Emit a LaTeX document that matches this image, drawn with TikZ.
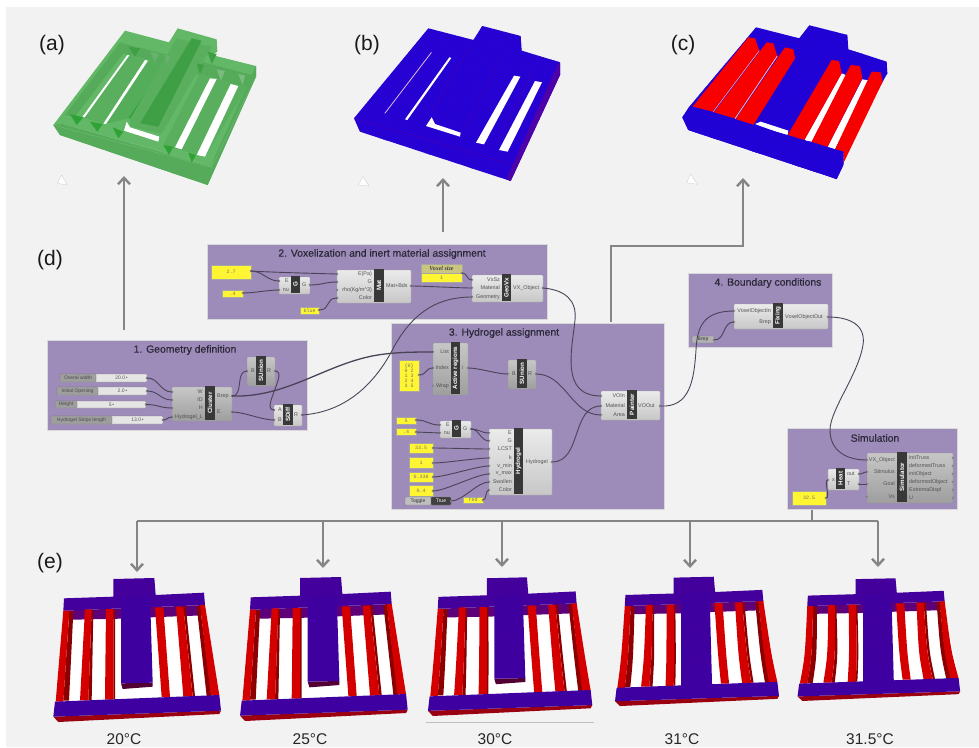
\documentclass[tikz,border=0pt]{standalone}
\usepackage{fontspec}
\setmainfont{Liberation Sans}
\newfontfamily\panelfont{Liberation Mono}
\newfontfamily\vsfont{Liberation Serif}
\newfontfamily\titlefont[FakeBold=0.35]{Liberation Sans}
\usetikzlibrary{arrows.meta}
\definecolor{pagebg}{HTML}{F2F2F2}
\definecolor{grp}{HTML}{9D8BB9}
\definecolor{ttl}{HTML}{2B2838}
\definecolor{wirec}{HTML}{4A4458}
\definecolor{arrowc}{HTML}{858585}
\definecolor{gA}{HTML}{62B866}
\definecolor{gB}{HTML}{55AB5A}
\definecolor{gC}{HTML}{3F9F45}
\definecolor{gD}{HTML}{2FA236}
\definecolor{blueA}{HTML}{2400E0}
\definecolor{blueB}{HTML}{1C00E4}
\definecolor{redA}{HTML}{F80000}
\definecolor{gridc}{HTML}{3008B0}
\definecolor{sTop}{HTML}{43009C}
\definecolor{sBack}{HTML}{5E0078}
\definecolor{sBeam}{HTML}{3E00A0}
\definecolor{sRed}{HTML}{D40000}
\definecolor{sDark}{HTML}{8B0000}
\definecolor{sLow}{HTML}{9A0010}
\tikzset{
  x=1pt,y=-1pt,
  groupbox/.style={draw=black!15,fill=grp,line width=.4pt},
  gtitle/.style={text=ttl,font=\fontsize{10.4}{11}\titlefont\selectfont,inner sep=0pt},
  comp/.style={draw=black!35,line width=.3pt,top color=white!92!black,bottom color=black!22,rounded corners=.8pt},
  compdark/.style={draw=black!40,line width=.3pt,top color=black!22,bottom color=black!38,rounded corners=.8pt},
  gbar/.style={fill=black!78,text=white,font=\fontsize{6.2}{6.2}\bfseries\selectfont},
  plabel/.style={text=black!68,font=\fontsize{5.4}{5.4}\selectfont,inner sep=0pt},
  portdot/.style={circle,draw=black!65,fill=black!8,line width=.3pt,minimum size=2.4pt,inner sep=0pt},
  ypanel/.style={draw=black!35,fill=yellow!80!white,line width=.3pt,text=black!55,font=\fontsize{5}{5}\panelfont\selectfont},
  sliderbox/.style={draw=black!50,fill=black!10,line width=.3pt,rounded corners=1pt,text=black!65,font=\fontsize{5}{5}\selectfont},
  sliderlab/.style={draw=black!50,fill=black!38,line width=.3pt,rounded corners=1pt,text=black!70,font=\fontsize{5}{5}\selectfont},
  wire/.style={draw=wirec,line width=.9pt},
  bigarrow/.style={draw=arrowc,line width=2.6pt,-{Straight Barb[length=6.5pt,width=12pt,line width=2.4pt]}},
  arrowline/.style={draw=arrowc,line width=2.6pt},
  tag/.style={font=\fontsize{21}{22}\selectfont,text=black!90,inner sep=0pt},
  temp/.style={font=\fontsize{15.5}{16}\selectfont,text=black!85,inner sep=0pt},
  cursorico/.style={fill=white,draw=black!25,line width=.2pt},
}
% style, name, x1,y1,x2,y2,text
\newcommand\bx[7]{\pgfmathsetmacro\bxw{#5-#3}\pgfmathsetmacro\bxh{#6-#4}%
  \node[#1,anchor=north west,minimum width=\bxw pt,minimum height=\bxh pt,inner sep=0pt,outer sep=0pt] (#2) at (#3,#4) {#7};}
% name,x1,y1,x2,y2,barx1,barx2,bartext, style
\newcommand\gc[9]{\bx{#9}{#1}{#2}{#3}{#4}{#5}{}%
  \bx{gbar}{#1-bar}{#6}{#3-1}{#7}{#5+1}{\rotatebox{90}{#8}}}
\newcommand\inp[5]{\node[portdot] (#1) at (#2,#3) {};\node[plabel,anchor=east] (#1-l) at (#4,#3) {#5};}
\newcommand\outp[5]{\node[portdot] (#1) at (#2,#3) {};\node[plabel,anchor=west] (#1-l) at (#4,#3) {#5};}
\newcommand\wire[3][12]{\draw[wire] (#2.center) .. controls +(#1,0) and +(-#1,0) .. (#3.center);}
% slider: id,x1,y1,x2,y2,split,label,value
\newcommand\slider[8]{\bx{sliderbox}{#1}{#2}{#3}{#4}{#5}{\hspace*{\dimexpr #6pt-#2pt\relax}#8\,\textbullet}%
  \bx{sliderlab}{#1-lab}{#2}{#3}{#6}{#5}{#7}%
  \node[portdot] (#1-o) at (#4,{(#3+#5)/2}) {};}
% panel: id,x1,y1,x2,y2,text
\newcommand\ypan[6]{\bx{ypanel}{#1}{#2}{#3}{#4}{#5}{#6}}
% voxel grid, clipped by the surrounding scope
\newcommand\gridlines{%
  \foreach \i in {0,...,130}{\draw[gridc,line width=.25pt] (-200,{-400+\i*9}) -- ++(1300,338);}
  \foreach \i in {0,...,130}{\draw[gridc,line width=.25pt] ({100+\i*10},-100) -- ++(-520,633);}}
% specimen band: colour, xTL,xTR,yT,xBL,xBR,yB,sign
\newcommand\sband[8]{\pgfmathsetmacro\cax{#2+(#5-#2)*.65+#8*\sbend}\pgfmathsetmacro\cbx{#3+(#6-#3)*.65+#8*\sbend}\pgfmathsetmacro\cy{#4+(#7-#4)*.65}%
  \fill[#1] (#2,#4) .. controls (\cax,\cy) .. (#5,#7) -- (#6,#7) .. controls (\cbx,\cy) .. (#3,#4) -- cycle;}
% specimen: name, X, Y, sx, sy, beam bottom, bend, beamface(1/0)
\newcommand\specimen[8]{%
 \begin{scope}[shift={(#2,#3)},x=#4/3*1pt,y=-#5/3*1pt]
  \def\sbend{#7}
  \coordinate (#1) at (350,300);
  \fill[white] (145,236) -- (555,222) -- (598,466) -- (105,485) -- cycle;
  \fill[sBack] (130,212) -- (555,195) -- (550,226) -- (392,232) -- (303,236) -- (160,239) -- cycle;
  \fill[sTop] (132,175) -- (280,170) -- (280,117) -- (403,114) -- (407,165) -- (552,158) -- (555,195) -- (130,212) -- cycle;
  \sband{sDark}{148}{160}{214}{130}{147}{482}{1}
  \sband{sRed}{130}{148}{212}{107}{130}{485}{1}
  \sband{sDark}{215}{220}{210}{205}{215}{481}{1}
  \sband{sRed}{195}{215}{208}{180}{205}{481}{1}
  \sband{sDark}{280}{285}{208}{280}{285}{478}{.5}
  \sband{sRed}{258}{280}{207}{255}{280}{479}{.5}
  \sband{sRed}{405}{430}{202}{425}{450}{471}{-.5}
  \sband{sDark}{490}{497}{198}{518}{525}{468}{-1}
  \sband{sRed}{468}{490}{200}{490}{518}{470}{-1}
  \sband{sDark}{530}{540}{198}{560}{575}{468}{-1}
  \sband{sRed}{540}{555}{195}{572}{598}{466}{-1}
  \ifnum#8=1 \fill[black!60!red!80!blue] (303,#6) -- (398,#6-2) -- (398,#6+10) -- (308,#6+17) -- cycle;\fi
  \fill[sBeam] (303,170) -- (390,165) -- (398,#6-2) -- (303,#6) -- cycle;
  \fill[sLow] (100,530) -- (603,512) -- (598,522) -- (115,546) -- cycle;
  \fill[sBeam] (105,485) -- (598,465) -- (603,512) -- (100,530) -- cycle;
  \foreach \k in {130,142,...,420}{\draw[sBack!35!sBeam,line width=.15pt] (305,\k) -- (392,\k-3);}
 \end{scope}}
\begin{document}
\begin{tikzpicture}
\useasboundingbox (0,0) rectangle (979,747);
\fill[white] (0,0) rectangle (979,747);
\fill[pagebg] (6,7) rectangle (979,747);

% ---- (a) green
\begin{scope}[shift={(20,10)},x=1/3*1pt,y=-1/3*1pt]
 \fill[gA] (315,62) -- (447,97) -- (473,55) -- (590,88) -- (592,125) -- (575,135) -- (708,168) -- (708,200) -- (563,525) -- (120,375) -- (100,345) -- cycle;
 \fill[gB] (100,345) -- (130,342) -- (575,472) -- (563,525) -- (120,375) -- cycle;
 \fill[gB] (708,168) -- (708,200) -- (563,525) -- (580,450) -- (695,195) -- cycle;
 \fill[gB] (300,98) -- (445,135) -- (440,165) -- (310,130) -- cycle;
 \fill[gB] (525,150) -- (695,195) -- (680,232) -- (520,190) -- cycle;
 \fill[gB] (300,98) -- (310,130) -- (165,320) -- (135,315) -- cycle;
 \fill[gB!70!gA] (322,135) -- (375,150) -- (250,342) -- (187,322) -- cycle;
 \fill[gC!40!gA] (384,152) -- (440,165) -- (325,325) -- (258,342) -- cycle;
 \fill[gD] (436,160) -- (445,165) -- (335,325) -- (325,325) -- cycle;
 \fill[gB!70!gA] (470,85) -- (575,110) -- (425,372) -- (332,350) -- (330,328) -- cycle;
 \fill[gC] (515,85) -- (545,92) -- (415,350) -- (360,340) -- cycle;
 \fill[gB!70!gA] (540,190) -- (680,232) -- (555,440) -- (430,405) -- cycle;
 \draw[gC!70,line width=.3pt] (100,345) -- (575,472) (130,342) -- (560,462) (575,472) -- (708,200);
 % slots
 \fill[white] (322,135) -- (328,136) -- (194,322) -- (187,321) -- cycle;
 \fill[white] (375,150) -- (384,152) -- (258,342) -- (250,341) -- cycle;
 \fill[white] (320,335) -- (330,352) -- (418,380) -- (415,395) -- (312,362) -- cycle;
 \fill[white] (570,205) -- (590,207) -- (485,418) -- (465,412) -- cycle;
 \fill[white] (632,222) -- (655,228) -- (555,440) -- (530,435) -- cycle;
 % triangles
 \fill[gD] (150,312) -- (190,322) -- (170,345) -- cycle;
 \fill[gD] (210,335) -- (248,342) -- (232,365) -- cycle;
 \fill[gD] (278,352) -- (310,365) -- (295,385) -- cycle;
 \fill[gD] (430,405) -- (460,410) -- (447,435) -- cycle;
 \fill[gD] (505,428) -- (528,435) -- (515,458) -- cycle;
 \fill[gC] (325,110) -- (360,115) -- (345,140) -- cycle;
 \fill[gC!80] (390,125) -- (418,132) -- (405,157) -- cycle;
 \fill[gC!80] (435,135) -- (452,140) -- (440,165) -- cycle;
 \fill[gC] (563,125) -- (590,132) -- (575,162) -- cycle;
 \fill[gC] (530,160) -- (552,165) -- (540,192) -- cycle;
 \fill[gC!70] (590,178) -- (615,183) -- (603,212) -- cycle;
 \fill[gC!70] (655,192) -- (675,197) -- (668,226) -- cycle;
 % cursor
 \fill[cursorico] (112,520) -- (125,495) -- (130,505) -- (142,525) -- cycle;
\end{scope}

% ---- (b) blue
\begin{scope}[shift={(340,10)},x=1/3*1pt,y=-1/3*1pt]
 \begin{scope}
  \clip (265,55) -- (400,90) -- (427,48) -- (542,78) -- (545,122) -- (660,157) -- (660,195) -- (512,513) -- (60,365) -- (42,325) -- cycle;
  \fill[blueA] (0,0) rectangle (700,560);
  \fill[violet!70!blue] (655,160) -- (670,160) -- (670,200) -- (515,520) -- (500,505) -- cycle;
  \gridlines
  \draw[violet!60!blue,line width=.4pt] (42,325) -- (520,465) -- (655,160);
  \draw[violet!60!blue,line width=.4pt] (390,110) -- (275,300) (480,150) -- (365,370) (580,180) -- (470,400);
 \end{scope}
 \fill[violet!25!white] (273,127) -- (276,127) -- (136,310) -- (133,310) -- cycle;
 \fill[white] (328,142) -- (334,144) -- (202,330) -- (195,328) -- cycle;
 \fill[white] (275,322) -- (285,342) -- (362,368) -- (360,380) -- (258,348) -- cycle;
 \fill[white] (522,197) -- (541,200) -- (432,403) -- (408,398) -- cycle;
 \fill[white] (585,213) -- (606,217) -- (503,425) -- (477,420) -- cycle;
 \fill[cursorico] (55,525) -- (68,500) -- (75,510) -- (87,528) -- cycle;
\end{scope}

% ---- (c) blue and red
\begin{scope}[shift={(640,10)},x=1/3*1pt,y=-1/3*1pt]
 \begin{scope}
  \clip (348,52) -- (478,85) -- (508,46) -- (622,75) -- (625,118) -- (740,155) -- (742,190) -- (728,215) -- (610,430) -- (610,465) -- (590,507) -- (145,360) -- (127,322) -- (150,288) -- cycle;
  \fill[blueB] (100,0) rectangle (760,520);
  \gridlines
 \end{scope}
 % gaps
 \fill[white] (345,342) -- (362,335) -- (445,362) -- (442,378) -- cycle;
 \fill[white] (605,190) -- (622,197) -- (515,395) -- (492,392) -- cycle;
 \fill[white] (667,208) -- (690,212) -- (585,418) -- (562,412) -- cycle;
 % strips
 \fill[redA] (325,82) -- (345,85) -- (358,122) -- (218,305) -- (158,290) -- cycle;
 \fill[redA] (380,97) -- (400,100) -- (412,138) -- (283,325) -- (222,307) -- cycle;
 \fill[redA] (435,112) -- (460,118) -- (465,145) -- (340,345) -- (287,327) -- cycle;
 \fill[redA] (575,150) -- (597,153) -- (605,190) -- (492,392) -- (443,375) -- cycle;
 \fill[redA] (632,165) -- (660,168) -- (667,205) -- (562,412) -- (515,395) -- cycle;
 \fill[redA] (695,185) -- (722,187) -- (728,215) -- (610,460) -- (610,425) -- (585,418) -- cycle;
 \draw[red!35!white,line width=.6pt] (358,122) -- (220,305);
 \draw[red!25!white,line width=.8pt] (412,138) -- (285,326);
 % front band
 \begin{scope}
  \clip (127,322) -- (150,288) -- (610,425) -- (610,465) -- (590,507) -- (145,360) -- cycle;
  \fill[blueB] (100,280) rectangle (620,520);
  \gridlines
 \end{scope}
 \fill[cursorico] (140,518) -- (152,492) -- (160,505) -- (173,523) -- cycle;
\end{scope}

% ---- groups
\bx{groupbox}{g2}{207}{244}{547}{319}{}
\bx{groupbox}{g1}{47}{340}{307}{430}{}
\bx{groupbox}{g3}{391}{323}{664}{509}{}
\bx{groupbox}{g4}{688}{273}{832}{347}{}
\bx{groupbox}{g5}{787}{428}{957}{509}{}
\node[gtitle] (t2) at (382,254) {2. Voxelization and inert material assignment};
\node[gtitle] (t1) at (185,350) {1. Geometry definition};
\node[gtitle] (t3) at (504,333) {3. Hydrogel assignment};
\node[gtitle] (t4) at (768,283) {4. Boundary conditions};
\node[gtitle] (t5) at (875,438) {Simulation};

% ---- group 2 components
\ypan{p27}{211}{265}{251}{279}{2.7}
\ypan{p04}{222}{290}{243}{297}{.4}
\ypan{pblue}{300}{307}{319}{314}{blue}
\bx{ypanel}{pvs}{421}{273}{462}{282}{1}
\bx{draw=black!35,fill=yellow!60!black!60!white,line width=.3pt}{pvst}{421}{264}{462}{273}{\fontsize{6}{6}\vsfont\bfseries\itshape\selectfont\color{black!75}Voxel size}
\gc{cG}{279}{277}{310}{294}{291}{300}{G}{comp}
\gc{cMat}{337}{270}{411}{303}{374}{384}{Mat}{comp}
\gc{cGeo}{472}{275}{543}{302}{502}{511}{GeoVx}{comp}
\inp{gE}{279}{281}{289}{E}\inp{gNu}{279}{290}{289}{nu}\outp{gOut}{310}{285}{302}{G}
\inp{mE}{337}{274}{372}{E(Pa)}\inp{mG}{337}{282}{372}{G}\inp{mRho}{337}{290}{372}{rho(Kg/m\^{}3)}\inp{mCol}{337}{298}{372}{Color}
\outp{mOut}{411}{286}{386}{Mat+Bds}
\inp{vSz}{472}{280}{500}{VxSz}\inp{vMat}{472}{288}{500}{Material}\inp{vGeom}{472}{297}{500}{Geometry}
\outp{vOut}{543}{288}{513}{VX\_Object}

% ---- group 1 components
\slider{s1}{60}{374}{147}{382}{96}{Overal width}{20.0}
\slider{s2}{57}{387}{147}{395}{98}{Initial Opening}{2.0}
\slider{s3}{55}{401}{146}{408}{77}{Height}{5}
\slider{s4}{51}{416}{163}{424}{112}{Hydrogel Strips length}{13.0}
\gc{cCl}{172}{387}{232}{421}{205}{215}{Cluster}{compdark}
\inp{clW}{172}{392}{203}{W}\inp{clD}{172}{400}{203}{ID}\inp{clH}{172}{408}{203}{H}\inp{clL}{172}{417}{203}{Hydrogel\_L}
\outp{clB}{232}{396}{217}{Brep}\outp{clE}{232}{412}{217}{E}
\gc{cSU}{247}{357}{275}{386}{256}{266}{SUnion}{compdark}
\inp{suB}{247}{371}{255}{B}\outp{suR}{275}{371}{267}{R}
\gc{cSD}{274}{405}{302}{426}{283}{293}{SDiff}{comp}
\inp{sdA}{274}{410}{282}{A}\inp{sdB}{274}{420}{282}{B}\outp{sdR}{302}{415}{294}{R}

% ---- group 3 components
\gc{cAR}{433}{343}{468}{395}{451}{460}{Active regions}{compdark}
\inp{arL}{433}{352}{449}{List}\inp{arI}{433}{368}{449}{Index}\inp{arW}{433}{386}{449}{Wrap}\outp{arO}{468}{368}{462}{i}
\bx{ypanel,align=center}{pList}{399}{360}{419}{391}{\{0\}\\0 2\\1 3\\2 4\\3 5}
\node[portdot] (pListO) at (419,375) {};
\gc{cSU2}{508}{360}{536}{389}{517}{527}{SUnion}{compdark}
\inp{su2B}{508}{374}{516}{B}\outp{su2R}{536}{374}{528}{R}
\gc{cP}{601}{391}{660}{420}{627}{637}{Painter}{comp}
\inp{pIn}{601}{396}{625}{VOIn}\inp{pMat}{601}{406}{625}{Material}\inp{pArea}{601}{415}{625}{Area}\outp{pOut}{660}{406}{638}{VOOut}
\ypan{h5}{396}{417}{416}{424}{5}
\ypan{h4}{396}{428}{416}{435}{.4}
\gc{cG2}{440}{421}{471}{438}{452}{461}{G}{comp}
\inp{g2E}{440}{425}{450}{E}\inp{g2N}{440}{433}{450}{nu}\outp{g2O}{471}{429}{463}{G}
\gc{cH}{489}{429}{552}{495}{514}{523}{Hydrogel}{comp}
\inp{hE}{489}{433}{512}{E}\inp{hG}{489}{441}{512}{G}\inp{hL}{489}{449}{512}{LCST}\inp{hk}{489}{458}{512}{k}
\inp{hmin}{489}{466}{512}{v\_min}\inp{hmax}{489}{474}{512}{v\_max}\inp{hS}{489}{482}{512}{Swollen}\inp{hC}{489}{490}{512}{Color}
\outp{hO}{552}{462}{526}{Hydrogel}
\ypan{v1}{409}{443}{433}{453}{33.5}
\ypan{v2}{409}{457}{433}{468}{1}
\ypan{v3}{409}{472}{433}{482}{0.338}
\ypan{v4}{409}{485}{433}{496}{0.4}
\bx{draw=black!50,fill=black!25,line width=.3pt,rounded corners=1pt,text=black!80,font=\fontsize{5}{5}\selectfont}{tg}{405}{497}{431}{505}{Toggle}
\bx{draw=black!50,fill=black!75,line width=.3pt,rounded corners=1pt,text=white,font=\fontsize{5}{5}\selectfont}{tv}{431}{497}{451}{505}{True}
\node[portdot] (tgO) at (451,501) {};
\ypan{pRed}{463}{497}{483}{503}{red}

% ---- group 4 components
\gc{cF}{734}{304}{828}{329}{773}{783}{Fixing}{comp}
\inp{fIn}{734}{311}{771}{VoxelObjectIn}\inp{fB}{734}{322}{771}{Brep}\outp{fO}{828}{317}{785}{VoxelObjectOut}
\bx{draw=black!50,fill=black!30,line width=.3pt,rounded corners=1pt,text=black!80,font=\fontsize{5}{5}\selectfont}{bp}{692}{336}{714}{343}{Brep}
\node[portdot] (bpO) at (714,340) {};

% ---- simulation components
\gc{cS}{867}{453}{953}{503}{897}{907}{Simulator}{compdark}
\inp{sV}{867}{460}{895}{VX\_Object}\inp{sS}{867}{472}{895}{Stimulus}\inp{sG}{867}{484}{895}{Goal}\inp{sVs}{867}{497}{895}{Vs}
\outp{o1}{953}{458}{909}{initTruss}\outp{o2}{953}{466}{909}{deformedTruss}\outp{o3}{953}{474}{909}{initObject}
\outp{o4}{953}{482}{909}{deformedObject}\outp{o5}{953}{490}{909}{ExtremaDispl}\outp{o6}{953}{498}{909}{U}
\gc{cHt}{828}{469}{859}{490}{836}{845}{Heat}{comp}
\inp{htx}{828}{480}{835}{x}\outp{htO}{859}{474}{847}{out}\outp{htT}{859}{484}{847}{T}
\ypan{p325}{792}{491}{826}{505}{32.5}
\node[portdot] (p325O) at (826,498) {};

% ---- wires
\node[portdot] (p27O) at (251,271) {};
\node[portdot] (p04O) at (243,293) {};
\node[portdot] (pblueO) at (319,310) {};
\node[portdot] (pvsO) at (462,273) {};
\wire{p27O}{gE}\draw[wire] (p27O.center) .. controls (265,272) and (300,273) .. (mE.center);
\wire{p04O}{gNu}\wire{gOut}{mG}\wire{pblueO}{mCol}\wire{mOut}{vMat}\wire[6]{pvsO}{vSz}
\wire{s1-o}{clW}\wire{s2-o}{clD}\wire{s3-o}{clH}\wire[5]{s4-o}{clL}
\wire{clB}{suB}\wire{clE}{sdB}\wire[14]{suR}{sdA}
\draw[wire] (sdR.center) .. controls (345,412) and (375,385) .. (395,345) .. controls (415,310) and (440,297) .. (vGeom.center);
\draw[wire,line width=1.3pt] (clB.center) .. controls (290,398) and (330,360) .. (385,354) .. controls (400,352) and (420,352) .. (arL.center);
\wire[8]{pListO}{arI}\wire{arO}{su2B}\wire[30]{su2R}{pArea}\wire[30]{hO}{pMat}
\draw[wire] (vOut.center) .. controls (565,290) and (577,300) .. (575,320) .. controls (572,350) and (560,396) .. (pIn.center);
\node[portdot] (h5O) at (416,420) {};
\node[portdot] (h4O) at (416,432) {};
\node[portdot] (v1O) at (433,448) {};
\node[portdot] (v2O) at (433,463) {};
\node[portdot] (v3O) at (433,477) {};
\node[portdot] (v4O) at (433,491) {};
\node[portdot] (redO) at (483,500) {};
\wire{h5O}{g2E}\wire{h4O}{g2N}\wire[8]{g2O}{hE}\wire[8]{g2O}{hG}
\wire{v1O}{hL}\wire{v2O}{hk}\wire{v3O}{hmin}\wire{v4O}{hmax}\wire{tgO}{hS}\wire[4]{redO}{hC}
\draw[wire] (pOut.center) .. controls (690,408) and (694,380) .. (696,350) .. controls (697,325) and (705,311) .. (fIn.center);
\wire{bpO}{fB}
\draw[wire] (fO.center) .. controls (850,317) and (866,325) .. (863,345) .. controls (858,375) and (830,410) .. (830,430) .. controls (830,450) and (845,460) .. (sV.center);
\wire[4]{htO}{sS}\wire[4]{htT}{sG}\wire[5]{p325O}{htx}

% ---- specimens
\specimen{sp1}{20}{540}{1}{1}{430}{0}{1}
\specimen{sp2}{206.7}{539}{1}{1}{428}{0}{1}
\specimen{sp3}{395.3}{540.7}{.98}{.963}{430}{1}{1}
\specimen{sp4}{582.4}{542.6}{.978}{.898}{490}{4}{0}
\specimen{sp5}{765.2}{545.9}{.97}{.852}{490}{8}{0}

% ---- arrows
\coordinate (a0) at (124,330); \coordinate (a1) at (124,176);
\coordinate (b0) at (443,232); \coordinate (b1) at (443,178);
\coordinate (c0) at (611,322); \coordinate (c1) at (611,246); \coordinate (c2) at (743,246); \coordinate (c3) at (743,178);
\draw[bigarrow] (a0) -- (a1);
\draw[bigarrow] (b0) -- (b1);
\draw[bigarrow] (c0) -- (c1) -- (c2) -- (c3);
\coordinate (d0) at (812,510); \coordinate (d1) at (812,521);
\coordinate (e0) at (137,521); \coordinate (e1) at (323,521); \coordinate (e2) at (502,521); \coordinate (e3) at (690,521); \coordinate (e4) at (878,521);
\coordinate (f0) at (137,572); \coordinate (f1) at (323,568); \coordinate (f2) at (502,567); \coordinate (f3) at (690,568); \coordinate (f4) at (878,567);
\draw[arrowline] (d0) -- (d1);
\draw[arrowline,line cap=square] (e0) -- (e4);
\foreach \n in {0,...,4}{\draw[bigarrow] (e\n) -- (f\n);}

% ---- labels
\node[tag] (la) at (52,45) {(a)};
\node[tag] (lb) at (367,45) {(b)};
\node[tag] (lc) at (683,45) {(c)};
\node[tag] (ld) at (50,260) {(d)};
\node[tag] (le) at (50,563) {(e)};
\node[temp] (T1) at (124,739) {20°C};
\node[temp] (T2) at (310,739) {25°C};
\node[temp] (T3) at (495,739) {30°C};
\node[temp] (T4) at (682,739) {31°C};
\node[temp] (T5) at (870,739) {31.5°C};
\coordinate (u0) at (426,722); \coordinate (u1) at (594,722);
\draw[black!25,line width=.8pt] (u0) -- (u1);
\end{tikzpicture}
\end{document}
